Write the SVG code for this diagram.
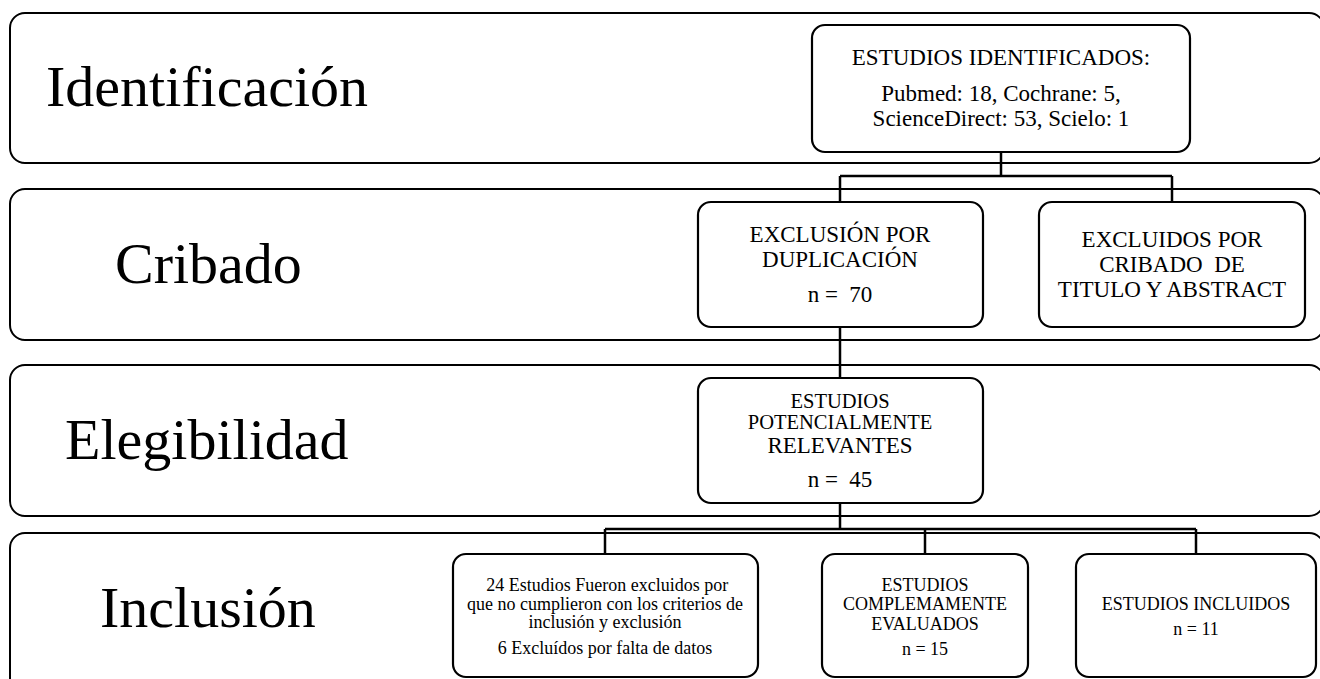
<svg xmlns="http://www.w3.org/2000/svg" width="1320" height="679" viewBox="0 0 1320 679">
<style>
.lane{fill:#fff;stroke:#000;stroke-width:2}
.box{fill:#fff;stroke:#000;stroke-width:2.2}
.conn{fill:none;stroke:#000;stroke-width:2.5}
text{font-family:"Liberation Serif","Times New Roman",serif;fill:#000;white-space:pre}
.lbl{font-size:58px}
.t23{font-size:23px;text-anchor:middle}
.t20{font-size:20.5px;text-anchor:middle}
.t18{font-size:18px;text-anchor:middle}
</style>
<g id="lanes">
<g id="lane-identificacion"><rect class="lane" x="10" y="13" width="1314" height="150" rx="15"/><text class="lbl" x="46" y="106">Identificación</text></g>
<g id="lane-cribado"><rect class="lane" x="10" y="189" width="1314" height="151" rx="15"/><text class="lbl" x="115" y="283">Cribado</text></g>
<g id="lane-elegibilidad"><rect class="lane" x="10" y="365" width="1314" height="151" rx="15"/><text class="lbl" x="65" y="459">Elegibilidad</text></g>
<g id="lane-inclusion"><rect class="lane" x="10" y="533" width="1314" height="170" rx="15"/><text class="lbl" x="100" y="627">Inclusión</text></g>
</g>
<g id="connectors">
<path class="conn" d="M1001 152 V176 M840 176 H1172 M840 176 V202 M1172 176 V202"/>
<path class="conn" d="M840 327 V378"/>
<path class="conn" d="M840 503 V529 M605 529 H1196 M605 529 V554 M925 529 V554 M1196 529 V554"/>
</g>
<g id="identificados">
<rect class="box" x="812" y="25" width="378" height="127" rx="13"/>
<text class="t23" x="1001" y="65">ESTUDIOS IDENTIFICADOS:</text>
<text class="t23" x="1001" y="101">Pubmed: 18, Cochrane: 5,</text>
<text class="t23" x="1001" y="126">ScienceDirect: 53, Scielo: 1</text>
</g>
<g id="duplicacion">
<rect class="box" x="698" y="202" width="285" height="125" rx="13"/>
<text class="t23" x="840" y="242">EXCLUSIÓN POR</text>
<text class="t23" x="840" y="267">DUPLICACIÓN</text>
<text class="t23" x="840" y="302">n =  70</text>
</g>
<g id="cribado-titulo">
<rect class="box" x="1039" y="202" width="266" height="125" rx="13"/>
<text class="t23" x="1172" y="247">EXCLUIDOS POR</text>
<text class="t23" x="1172" y="272">CRIBADO  DE</text>
<text class="t23" x="1172" y="297">TITULO Y ABSTRACT</text>
</g>
<g id="relevantes">
<rect class="box" x="698" y="378" width="285" height="125" rx="13"/>
<text class="t20" x="840" y="408">ESTUDIOS</text>
<text class="t20" x="840" y="429">POTENCIALMENTE</text>
<text class="t23" x="840" y="453">RELEVANTES</text>
<text class="t23" x="840" y="487">n =  45</text>
</g>
<g id="excluidos">
<rect class="box" x="453" y="554" width="305" height="123" rx="13"/>
<text class="t18" x="605" y="591"> 24 Estudios Fueron excluidos por</text>
<text class="t18" x="605" y="610">que no cumplieron con los criterios de</text>
<text class="t18" x="605" y="628">inclusión y exclusión</text>
<text class="t18" x="605" y="654">6 Excluídos por falta de datos</text>
</g>
<g id="evaluados">
<rect class="box" x="822" y="554" width="206" height="123" rx="13"/>
<text class="t18" x="925" y="591">ESTUDIOS</text>
<text class="t18" x="925" y="610">COMPLEMAMENTE</text>
<text class="t18" x="925" y="630">EVALUADOS</text>
<text class="t18" x="925" y="655">n = 15</text>
</g>
<g id="incluidos">
<rect class="box" x="1076" y="554" width="240" height="123" rx="13"/>
<text class="t18" x="1196" y="610">ESTUDIOS INCLUIDOS</text>
<text class="t18" x="1196" y="635">n = 11</text>
</g>
</svg>
